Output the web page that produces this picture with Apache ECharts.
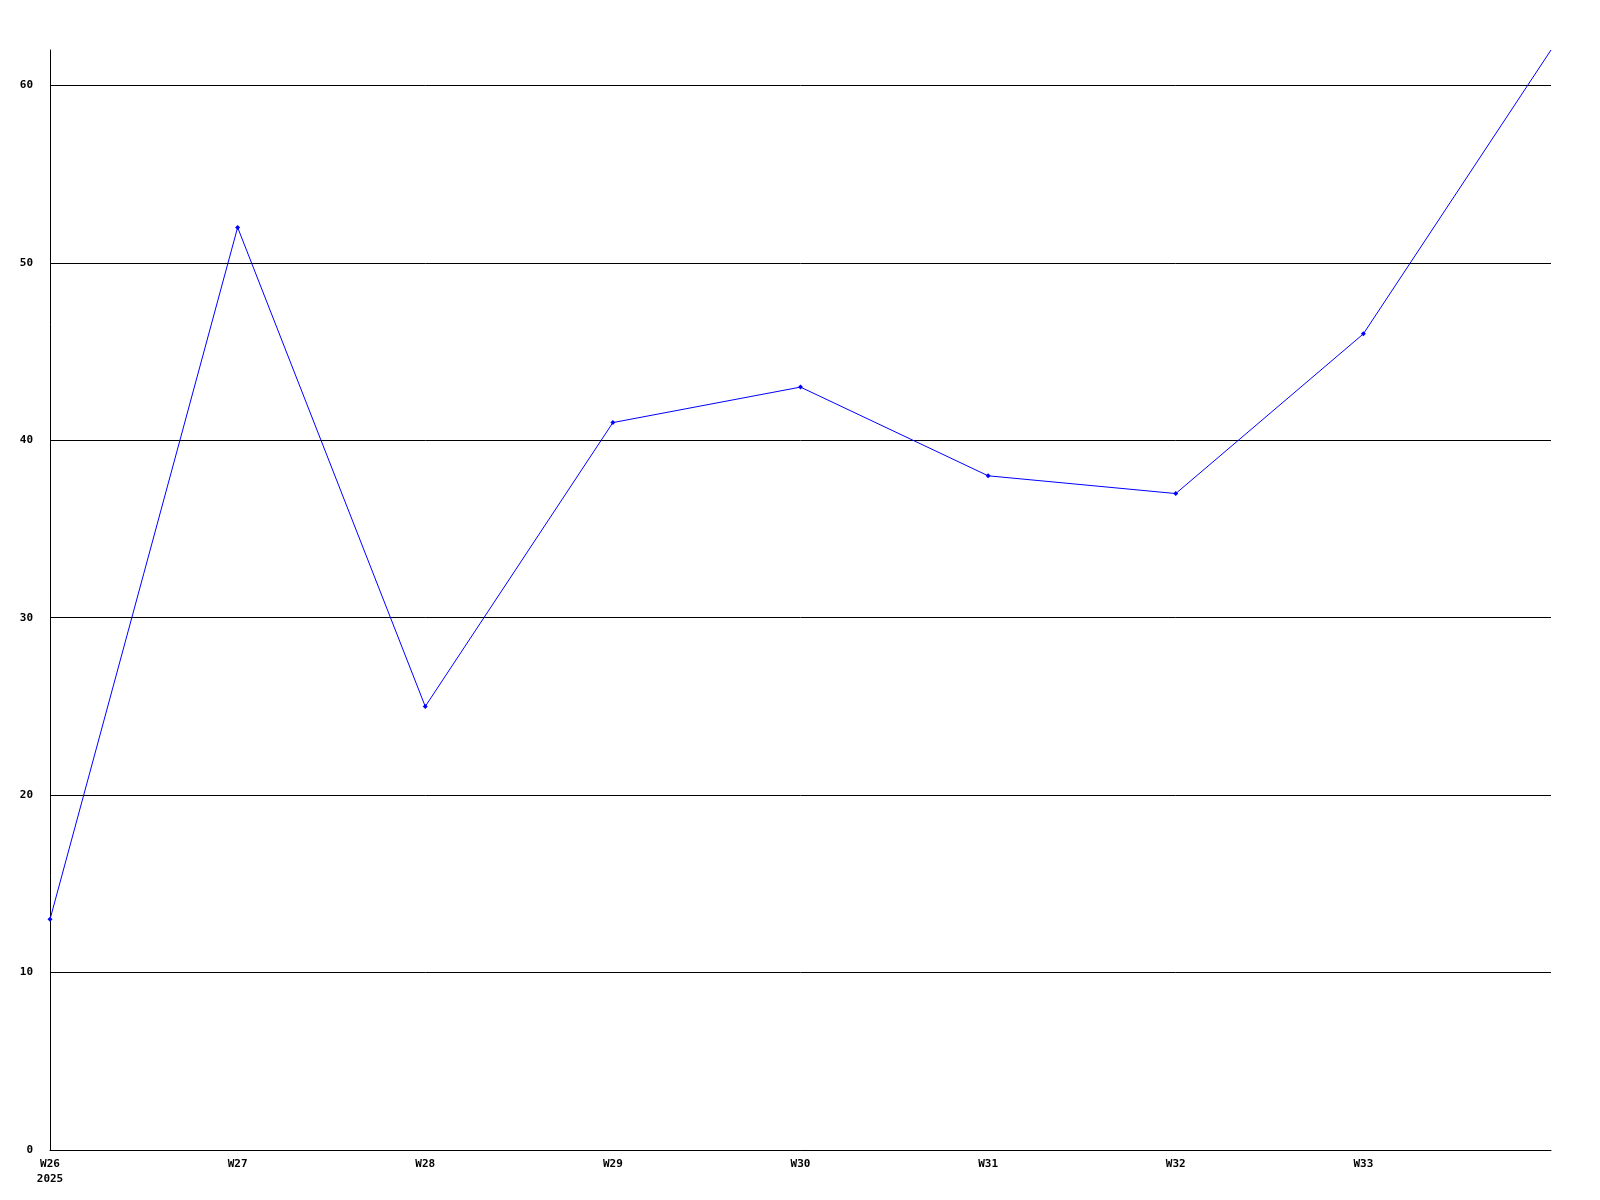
<!DOCTYPE html>
<html>
<head>
<meta charset="utf-8">
<script src="https://cdn.jsdelivr.net/npm/echarts@6/dist/echarts.min.js"></script>
<style>
html,body{margin:0;padding:0;background:#fff;}
#chart{width:1600px;height:1200px;}
</style>
</head>
<body>
<div id="chart"></div>
<script>
const categories = ['W26','W27','W28','W29','W30','W31','W32','W33','W34'];
const tickLabels = ['W26\n2025','W27','W28','W29','W30','W31','W32','W33',''];
const values = [13, 52, 25, 41, 43, 38, 37, 46, 62];
const yTicks = [0, 10, 20, 30, 40, 50, 60];

const chart = echarts.init(document.getElementById('chart'), null, {renderer:'canvas'});
const font = '"DejaVu Sans Mono", "Liberation Mono", monospace';
chart.setOption({
  animation: false,
  backgroundColor: '#ffffff',
  grid: {left: 50, right: 49, top: 50, bottom: 50, containLabel: false},
  xAxis: {
    type: 'category',
    data: categories,
    boundaryGap: false,
    axisLine: {show: true, lineStyle: {color: '#000', width: 1}},
    axisTick: {show: false},
    splitLine: {show: false},
    axisLabel: {
      interval: 0,
      margin: 7,
      color: '#000',
      fontFamily: font,
      fontWeight: 'bold',
      fontSize: 11,
      lineHeight: 15,
      formatter: (v, i) => tickLabels[i]
    }
  },
  yAxis: {
    type: 'value',
    min: 0,
    max: 62,
    interval: 10,
    axisLine: {show: true, lineStyle: {color: '#000', width: 1}},
    axisTick: {show: false},
    splitLine: {show: true, showMaxLine: false, lineStyle: {color: '#000', width: 1}},
    axisLabel: {
      margin: 17,
      color: '#000',
      fontFamily: font,
      fontWeight: 'bold',
      fontSize: 11,
      showMaxLabel: false,
      formatter: v => yTicks.includes(v) ? String(v) : ''
    }
  },
  series: [{
    type: 'line',
    data: values,
    symbol: (v, p) => p.dataIndex === values.length - 1 ? 'none' : 'diamond',
    symbolSize: 5,
    showSymbol: true,
    clip: false,
    lineStyle: {color: '#0000ff', width: 1},
    itemStyle: {color: '#0000ff'},
    emphasis: {disabled: true}
  }]
});
</script>
</body>
</html>
